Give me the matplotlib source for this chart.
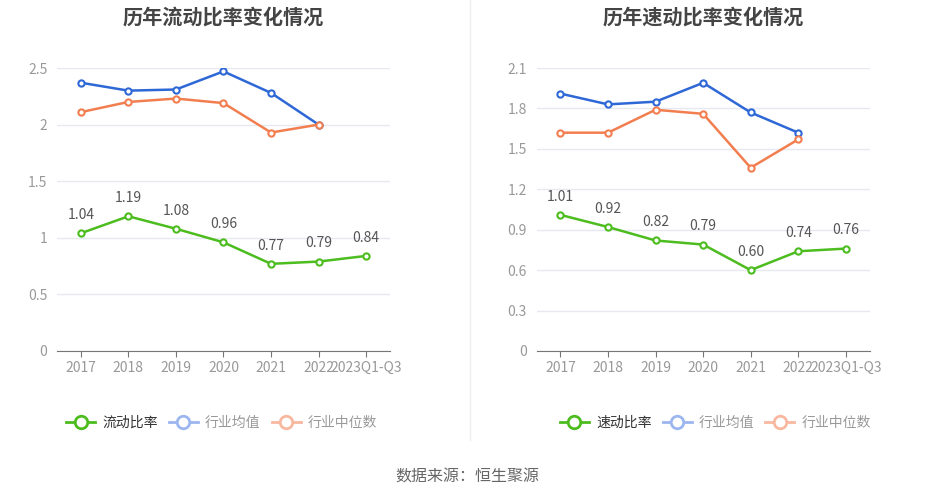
import matplotlib
matplotlib.use('Agg')
import matplotlib.pyplot as plt
from matplotlib.lines import Line2D

plt.rcParams['font.family'] = ['Noto Sans CJK SC', 'DejaVu Sans']

years = ['2017', '2018', '2019', '2020', '2021', '2022', '2023Q1-Q3']

# 流动比率
current_ratio = [1.04, 1.19, 1.08, 0.96, 0.77, 0.79, 0.84]
current_avg = [2.37, 2.30, 2.31, 2.47, 2.28, 2.00]
current_median = [2.11, 2.20, 2.23, 2.19, 1.93, 2.00]
current_ticks = [0, 0.5, 1, 1.5, 2, 2.5]
current_ticklabels = ['0', '0.5', '1', '1.5', '2', '2.5']

# 速动比率
quick_ratio = [1.01, 0.92, 0.82, 0.79, 0.60, 0.74, 0.76]
quick_avg = [1.91, 1.83, 1.85, 1.99, 1.77, 1.62]
quick_median = [1.62, 1.62, 1.79, 1.76, 1.36, 1.57]
quick_ticks = [0, 0.3, 0.6, 0.9, 1.2, 1.5, 1.8, 2.1]
quick_ticklabels = ['0', '0.3', '0.6', '0.9', '1.2', '1.5', '1.8', '2.1']

green = '#4cbc1f'
blue = '#2e68d6'
orange = '#f27e50'
blue_light = '#9cb6ef'
orange_light = '#f8b8a0'

fig = plt.figure(figsize=(9.35, 5), dpi=100)


def draw(ax, title, main, avg, med, ticks, ticklabels, name, legend_x):
    x = list(range(len(years)))
    ax.plot(x[:len(avg)], avg, color=blue, lw=1.8, marker='o', ms=4.5,
            mfc='white', mec=blue, mew=1.5, zorder=3)
    ax.plot(x[:len(med)], med, color=orange, lw=1.8, marker='o', ms=4.5,
            mfc='white', mec=orange, mew=1.5, zorder=3)
    ax.plot(x, main, color=green, lw=1.8, marker='o', ms=4.5,
            mfc='white', mec=green, mew=1.5, zorder=4)
    for i, v in enumerate(main):
        ax.annotate('%.2f' % v, (i, v), xytext=(0, 8), textcoords='offset points',
                    ha='center', va='bottom', fontsize=10, color='#555555')
    ax.set_xlim(-0.5, len(years) - 0.5)
    ax.set_ylim(0, ticks[-1])
    ax.set_yticks(ticks)
    ax.set_yticklabels(ticklabels)
    ax.set_xticks(x)
    ax.set_xticklabels(years)
    ax.tick_params(axis='y', length=0, labelsize=10, labelcolor='#999999', pad=7)
    ax.tick_params(axis='x', length=4, color='#777777', labelsize=10,
                   labelcolor='#999999', pad=3)
    ax.grid(axis='y', color='#e6e9f0', lw=1)
    ax.set_axisbelow(True)
    for s in ['top', 'right', 'left']:
        ax.spines[s].set_visible(False)
    ax.spines['bottom'].set_color('#777777')
    ax.set_title(title, fontsize=14.5, fontweight='bold', color='#444444', pad=32)

    handles = [
        Line2D([0], [0], color=green, lw=2, marker='o', ms=9, mfc='white', mec=green, mew=2),
        Line2D([0], [0], color=blue_light, lw=2, marker='o', ms=9, mfc='white', mec=blue_light, mew=2),
        Line2D([0], [0], color=orange_light, lw=2, marker='o', ms=9, mfc='white', mec=orange_light, mew=2),
    ]
    leg = fig.legend(handles, [name, '行业均值', '行业中位数'], loc='center',
                     bbox_to_anchor=(legend_x, 0.155), ncol=3, frameon=False,
                     fontsize=10, handlelength=2.1, columnspacing=0.8, handletextpad=0.5)
    cols = ['#333333', '#999999', '#999999']
    for t, c in zip(leg.get_texts(), cols):
        t.set_color(c)


ax1 = fig.add_axes([0.061, 0.298, 0.356, 0.566])
draw(ax1, '历年流动比率变化情况', current_ratio, current_avg, current_median,
     current_ticks, current_ticklabels, '流动比率', 0.237)

ax2 = fig.add_axes([0.574, 0.298, 0.356, 0.566])
draw(ax2, '历年速动比率变化情况', quick_ratio, quick_avg, quick_median,
     quick_ticks, quick_ticklabels, '速动比率', 0.765)

fig.add_artist(Line2D([0.503, 0.503], [0.12, 1.0], color='#eeeeee', lw=1))
fig.text(0.5, 0.046, '数据来源：恒生聚源', ha='center', va='center',
         fontsize=11.5, color='#666666')

fig.savefig('out.png', dpi=100, facecolor='white')
